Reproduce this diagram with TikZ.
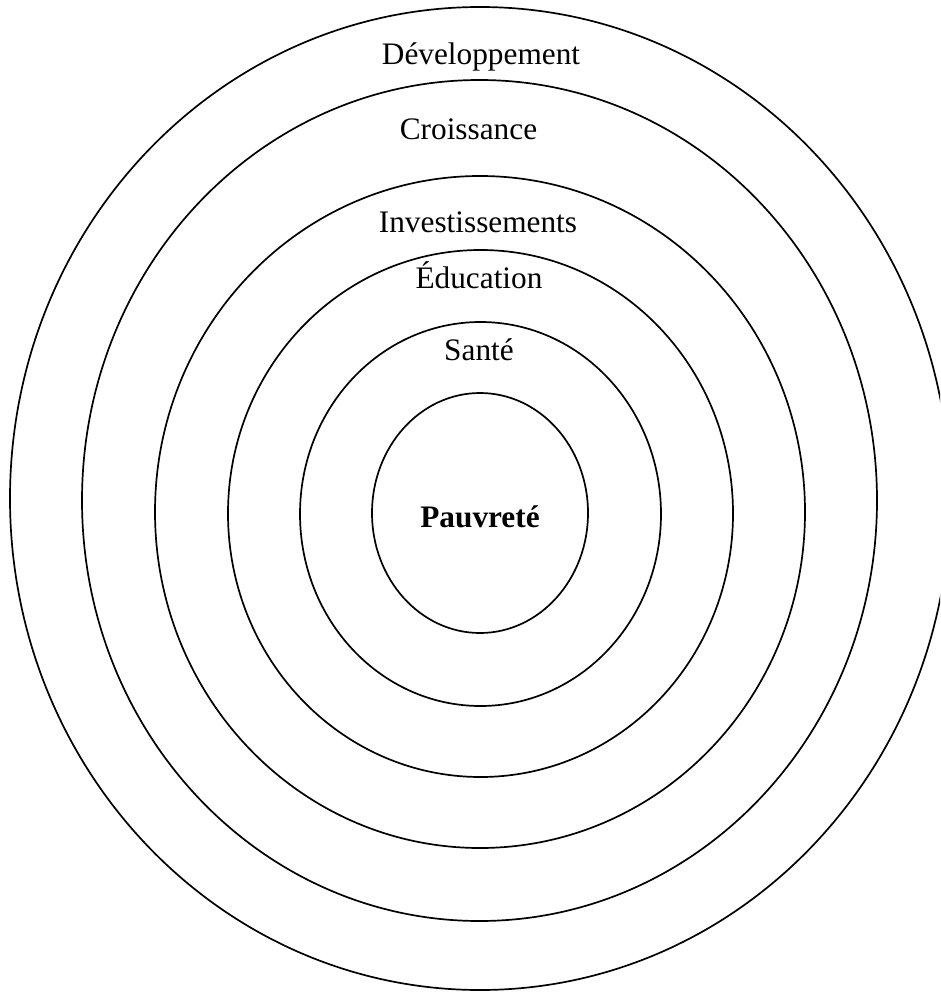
\documentclass[tikz,border=0pt]{standalone}
\usepackage{fontspec}
\setmainfont{Liberation Serif}
\begin{document}
\begin{tikzpicture}[x=1pt,y=-1pt,
  ring/.style={draw=black,line width=1.7pt},
  lbl/.style={anchor=base,inner sep=0pt,font=\fontsize{31.3}{36}\selectfont}]
\useasboundingbox (0,0) rectangle (940,992);
\clip (0,0) rectangle (940,992);
\fill[white] (0,0) rectangle (940,992);
\draw[ring] (480,498.5) ellipse [x radius=470pt, y radius=491.5pt];
\draw[ring] (479.5,500.5) ellipse [x radius=397.5pt, y radius=420.5pt];
\draw[ring] (480,512) ellipse [x radius=325pt, y radius=336pt];
\draw[ring] (480.5,513.5) ellipse [x radius=252.5pt, y radius=263.5pt];
\draw[ring] (480.5,514) ellipse [x radius=180.5pt, y radius=192pt];
\draw[ring] (480,513) ellipse [x radius=108pt, y radius=120pt];
\node[lbl] (dev) at (481,65) {Développement};
\node[lbl] (cro) at (468.5,140) {Croissance};
\node[lbl] (inv) at (478,233) {Investissements};
\node[lbl] (edu) at (479,288) {Éducation};
\node[lbl] (san) at (479,360) {Santé};
\node[lbl,font=\fontsize{31.3}{36}\selectfont\bfseries] (pau) at (480,527) {Pauvreté};
\end{tikzpicture}
\end{document}
